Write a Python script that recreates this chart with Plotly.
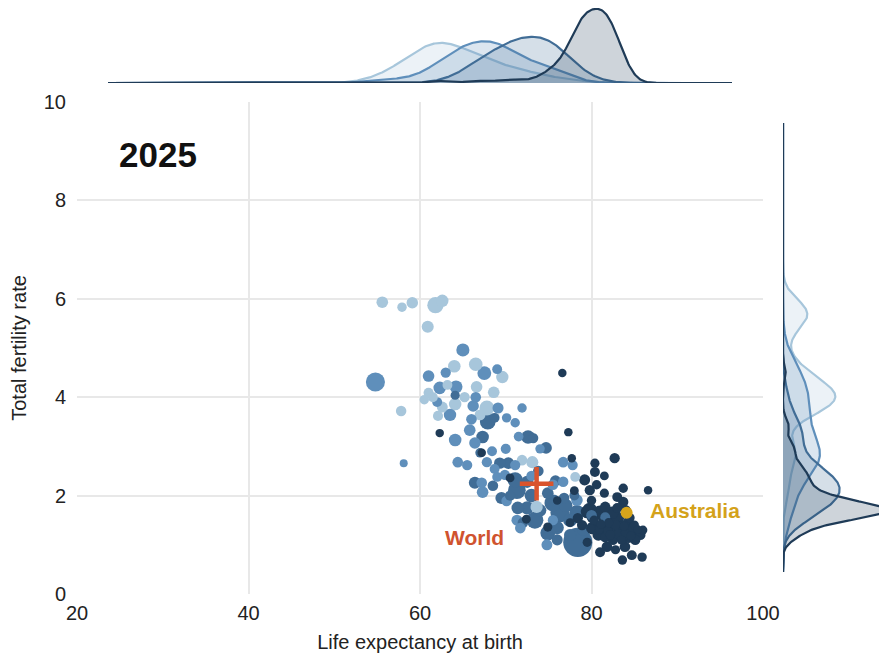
import numpy as np
import pandas as pd
import plotly.graph_objects as go

# ---------------- data ----------------
YEAR = "2025"

# Low income (lightest)
LOW_LE = [55.6, 57.9, 59.1, 61.8, 62.6, 60.9, 57.8, 64.0, 66.5, 69.6, 61.0, 62.6, 64.1,
          62.1, 68.6, 67.0, 66.6, 67.8, 71.9, 73.1, 73.6, 78.1, 65.2, 63.2, 61.5, 60.5]
LOW_TFR = [5.93, 5.83, 5.92, 5.87, 5.96, 5.43, 3.72, 4.63, 4.67, 4.41, 4.09, 3.80, 3.86,
           3.62, 4.10, 3.64, 4.21, 3.78, 2.72, 2.68, 1.77, 2.38, 4.00, 4.25, 4.00, 3.95]
LOW_POP = [20, 6, 19, 110, 28, 24, 11, 30, 45, 28, 9, 14, 30,
           9, 20, 14, 20, 70, 12, 24, 26, 8, 10, 8, 8, 6]

# Lower-middle income
LMI_LE = [54.8, 65.0, 61.0, 62.3, 64.2, 67.5, 69.0, 63.5, 66.2, 69.1, 70.1, 71.1, 71.9,
          64.1, 65.8, 66.4, 58.1, 64.4, 65.5, 67.8, 68.7, 71.1, 76.7, 77.8, 67.2, 67.3,
          69.0, 69.9, 75.5, 76.7, 78.3, 70.1, 71.3, 71.7, 74.8, 62.0, 66.0, 68.4, 70.0,
          73.0, 74.0, 71.5, 63.0, 66.5, 75.5]
LMI_TFR = [4.31, 4.96, 4.43, 4.19, 4.21, 4.49, 4.57, 3.64, 3.82, 3.78, 3.58, 3.48, 3.78,
           3.13, 3.33, 3.07, 2.66, 2.68, 2.62, 2.68, 2.54, 2.62, 2.68, 2.62, 2.26, 2.07,
           2.38, 2.42, 2.22, 2.28, 1.91, 1.89, 1.50, 1.34, 1.00, 3.90, 3.55, 2.90, 2.95,
           2.40, 2.95, 3.20, 4.50, 4.00, 1.50]
LMI_POP = [230, 38, 20, 30, 35, 50, 8, 28, 18, 15, 6, 6, 6,
           30, 20, 18, 2, 12, 10, 10, 8, 10, 12, 10, 12, 20,
           8, 10, 12, 11, 20, 12, 14, 12, 14, 8, 12, 8, 9,
           10, 6, 7, 10, 12, 10]

# Upper-middle income
UMI_LE = [78.4, 71.3, 71.1, 73.4, 75.5, 76.3, 78.3, 74.9, 67.9, 68.7, 67.3, 72.6, 73.2,
          74.7, 67.0, 69.3, 70.3, 66.4, 72.5, 74.9, 71.4, 72.5, 77.0, 76.0, 77.5, 79.0,
          64.1, 69.5, 73.0, 75.8, 76.8, 80.0, 81.6, 70.5, 74.0, 77.5, 76.0, 78.0, 73.8,
          68.5, 72.0]
UMI_TFR = [1.05, 2.11, 2.32, 1.50, 1.85, 1.65, 1.65, 1.24, 3.50, 3.58, 3.19, 3.19, 3.17,
           2.97, 2.87, 2.66, 2.66, 2.26, 2.28, 2.05, 1.75, 1.75, 1.80, 1.35, 1.50, 1.30,
           4.04, 1.95, 2.00, 2.30, 1.95, 1.60, 1.56, 2.00, 1.70, 1.20, 1.10, 2.00, 2.50,
           2.20, 1.45]
UMI_POP = [1415, 160, 80, 130, 130, 212, 87, 70, 90, 8, 30, 45, 10,
           20, 6, 18, 20, 25, 25, 20, 30, 40, 40, 40, 50, 20,
           5, 25, 45, 15, 12, 12, 8, 10, 30, 25, 15, 8, 12,
           12, 12]

# High income (darkest)
HI_LE = [76.6, 62.3, 77.3, 77.7, 67.2, 70.5, 72.4, 74.9, 82.7, 80.4, 80.4, 79.2, 80.6,
         79.8, 83.7, 86.6, 83.0, 83.7, 81.6, 79.5, 80.1, 82.4, 83.0, 83.6, 84.7, 85.7,
         85.1, 84.3, 81.2, 80.8, 81.8, 81.0, 83.9, 84.7, 83.6, 85.9, 82.4, 80.1, 78.9,
         78.4, 84.3, 85.3, 83.9, 85.1, 81.0, 79.8, 82.0, 84.5, 83.0, 81.5, 78.0, 80.0,
         82.5, 79.5, 84.0, 82.8, 85.0, 86.0, 76.0, 77.5, 81.5,
         80.5, 81.3, 82.2, 83.2, 84.0, 82.8, 81.9, 80.9, 83.5, 84.8, 82.0, 80.3, 81.6,
         83.1, 79.9, 84.6, 82.6, 81.1, 85.4, 83.8]
HI_TFR = [4.49, 3.27, 3.29, 2.76, 2.87, 2.36, 1.52, 1.36, 2.76, 2.66, 2.48, 2.32, 2.22,
          2.11, 2.15, 2.11, 1.97, 1.87, 1.77, 1.67, 1.56, 1.65, 1.54, 1.36, 1.36, 1.20,
          1.24, 1.14, 1.34, 1.20, 0.96, 0.85, 0.96, 0.79, 0.69, 0.75, 1.44, 1.34, 1.40,
          1.54, 1.46, 1.26, 1.24, 1.10, 1.65, 1.71, 1.30, 1.55, 1.75, 2.05, 2.10, 1.90,
          1.10, 1.05, 1.70, 0.90, 1.40, 1.30, 1.90, 1.45, 2.40,
          1.30, 1.35, 1.20, 1.30, 1.25, 1.40, 1.28, 1.32, 1.10, 1.35, 1.45, 1.50, 1.15,
          1.22, 1.33, 1.18, 1.27, 1.42, 1.31, 1.38]
HI_POP = [3, 3, 3, 3, 3, 4, 4, 5, 10, 5, 8, 15, 6,
          10, 6, 3, 8, 10, 12, 35, 20, 30, 45, 20, 15, 10,
          12, 10, 40, 20, 12, 8, 12, 8, 6, 6, 60, 30, 10,
          10, 15, 12, 20, 10, 65, 60, 80, 5, 8, 5, 4, 6,
          10, 5, 9, 5, 5, 4, 3, 4, 4,
          8, 10, 6, 12, 8, 9, 7, 6, 5, 6, 5, 5, 9,
          10, 5, 4, 11, 5, 3, 4]

WORLD_LE, WORLD_TFR = 73.6, 2.24
AUS_LE, AUS_TFR = 84.1, 1.65

GROUPS = ["Low income", "Lower-middle income", "Upper-middle income", "High income"]
GROUP_COLORS = ["#a7c6db", "#5f8fbb", "#416d96", "#1f3b57"]

X_TICKS = [20, 40, 60, 80, 100]
Y_TICKS = [0, 2, 4, 6, 8, 10]

# ---------------- build ----------------
frames = []
for g, le, tfr, pop in zip(GROUPS, [LOW_LE, LMI_LE, UMI_LE, HI_LE],
                           [LOW_TFR, LMI_TFR, UMI_TFR, HI_TFR],
                           [LOW_POP, LMI_POP, UMI_POP, HI_POP]):
    frames.append(pd.DataFrame({"group": g, "le": le, "tfr": tfr, "pop": pop}))
df = pd.concat(frames, ignore_index=True)
color_map = dict(zip(GROUPS, GROUP_COLORS))
df["color"] = df["group"].map(color_map)
df["size"] = 4.0 + 3.3 * df["pop"] ** 0.28
df = df.sort_values("pop", ascending=False)

W, H = 887, 661
OFF = 8  # page body margin in the browser
def px(x):
    return min(1.0, max(0.0, (x - OFF) / W))
def py(y):
    return min(1.0, max(0.0, (H - (y - OFF)) / H))

fig = go.Figure()

# marginal densities (Gaussian kernel density per group, R's bw.nrd0 rule)
le_grid = np.linspace(20, 100, 700)
tfr_grid = np.linspace(-0.1, 10.3, 700)

def kde(values, grid, adjust=1.0):
    v = np.asarray(values, dtype=float)
    n = len(v)
    sd = v.std(ddof=1)
    iqr = np.subtract(*np.percentile(v, [75, 25]))
    bw = adjust * 0.9 * min(sd, iqr / 1.34) * n ** (-0.2)
    z = (grid[:, None] - v[None, :]) / bw
    return np.exp(-0.5 * z ** 2).sum(axis=1) / (n * bw * np.sqrt(2 * np.pi))

def rgba(hexc, a):
    h = hexc.lstrip("#")
    r, g, b = int(h[0:2], 16), int(h[2:4], 16), int(h[4:6], 16)
    return f"rgba({r},{g},{b},{a})"

top_max = 0
right_max = 0
for g, c in zip(GROUPS, GROUP_COLORS):
    sub = df[df["group"] == g]
    d_le = kde(sub["le"], le_grid, 1.3)
    d_tfr = kde(sub["tfr"], tfr_grid, 1.0)
    top_max = max(top_max, d_le.max())
    right_max = max(right_max, d_tfr.max())
    fig.add_trace(go.Scatter(x=le_grid, y=d_le, xaxis="x2", yaxis="y2", mode="lines",
                             line=dict(color=c, width=2.2), fill="tozeroy",
                             fillcolor=rgba(c, 0.22), hoverinfo="skip", showlegend=False))
    fig.add_trace(go.Scatter(x=d_tfr, y=tfr_grid, xaxis="x3", yaxis="y3", mode="lines",
                             line=dict(color=c, width=2.2), fill="tozerox",
                             fillcolor=rgba(c, 0.22), hoverinfo="skip", showlegend=False))

# main scatter
fig.add_trace(go.Scatter(x=df["le"], y=df["tfr"], mode="markers",
                         marker=dict(size=df["size"], color=df["color"], opacity=1,
                                     line=dict(width=0)),
                         showlegend=False))
# Australia
fig.add_trace(go.Scatter(x=[AUS_LE], y=[AUS_TFR], mode="markers",
                         marker=dict(size=12, color="#d6a41b", line=dict(width=0)),
                         showlegend=False))
# World
fig.add_trace(go.Scatter(x=[WORLD_LE], y=[WORLD_TFR], mode="markers",
                         marker=dict(symbol="cross-thin", size=24,
                                     line=dict(width=4.5, color="#d9542d")),
                         showlegend=False))

FONT = "Liberation Sans, Arial, sans-serif"
axis_font = dict(family=FONT, size=20, color="#222222")
title_font = dict(family=FONT, size=20, color="#222222")

fig.update_layout(
    width=W, height=H, autosize=False,
    margin=dict(l=0, r=0, t=0, b=0, autoexpand=False),
    paper_bgcolor="white", plot_bgcolor="white",
    font=dict(family=FONT, color="#222222"),
    xaxis=dict(domain=[px(77), px(763)], range=[20, 100], tickvals=X_TICKS,
               showgrid=True, gridcolor="#e8e8e8", gridwidth=2, zeroline=False,
               showline=False, tickfont=axis_font, ticks="", ticklabelstandoff=5,
               automargin=False,
               title=dict(text="Life expectancy at birth", font=title_font, standoff=11)),
    yaxis=dict(domain=[py(594), py(102)], range=[0, 10], tickvals=Y_TICKS,
               showgrid=True, gridcolor="#e8e8e8", gridwidth=2, zeroline=False,
               showline=False, tickfont=axis_font, ticks="", ticklabelstandoff=10,
               automargin=False,
               title=dict(text="Total fertility rate", font=title_font, standoff=12)),
    xaxis2=dict(domain=[px(108), px(732)], range=[20, 100], anchor="y2", visible=False,
                automargin=False),
    yaxis2=dict(domain=[py(83), py(8)], range=[0, top_max * 1.01], anchor="x2", visible=False,
                automargin=False),
    xaxis3=dict(domain=[px(783), px(886)], range=[0, right_max * 1.0], anchor="y3",
                visible=False, automargin=False),
    yaxis3=dict(domain=[py(572), py(123)], range=[-0.1, 10.3], anchor="x3", visible=False,
                automargin=False),
    annotations=[
        dict(text=f"<b>{YEAR}</b>", xref="paper", yref="paper", x=px(158), y=py(154),
             xanchor="center", yanchor="middle", showarrow=False,
             font=dict(family=FONT, size=35, color="#111111")),
        dict(text="<b>World</b>", xref="x", yref="y", x=WORLD_LE, y=WORLD_TFR,
             xshift=-62, yshift=-54, showarrow=False, xanchor="center", yanchor="middle",
             font=dict(family=FONT, size=21, color="#d0532f")),
        dict(text="<b>Australia</b>", xref="x", yref="y", x=AUS_LE, y=AUS_TFR,
             xshift=21, yshift=2, showarrow=False, xanchor="left", yanchor="middle",
             font=dict(family=FONT, size=21, color="#d4a21a")),
    ],
)

fig.write_html("out.html")
